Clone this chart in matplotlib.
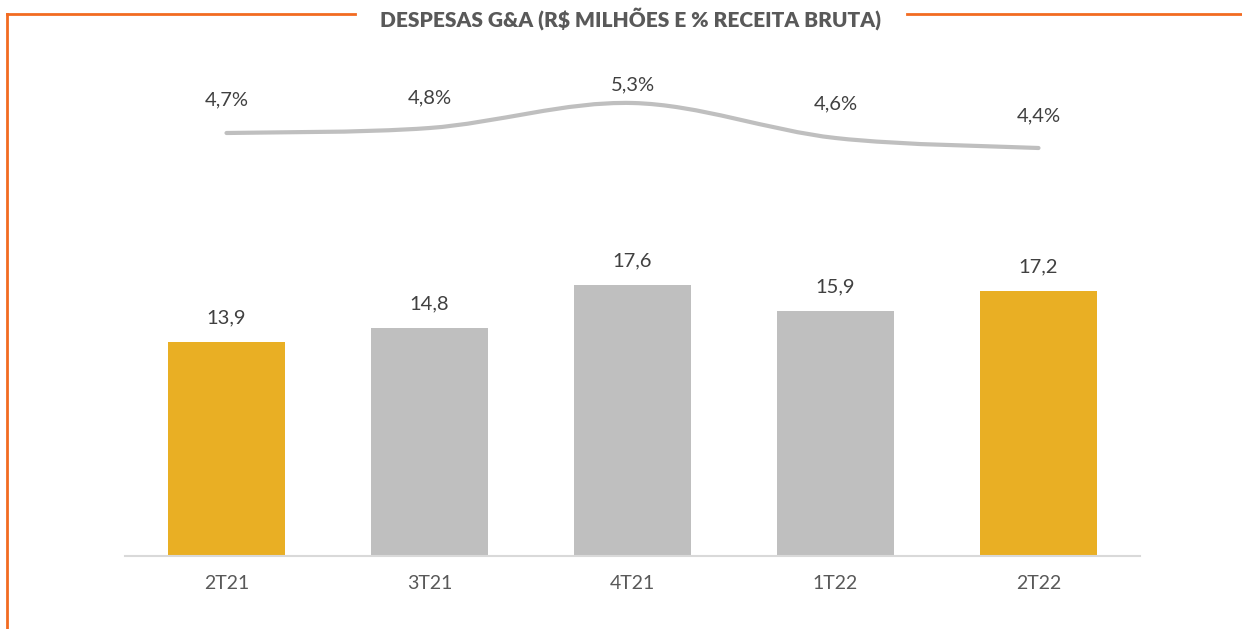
import numpy as np
import matplotlib
matplotlib.use("Agg")
import matplotlib.pyplot as plt
from matplotlib.path import Path
from matplotlib.patches import PathPatch
from matplotlib.lines import Line2D

plt.rcParams['font.family'] = ['Lato', 'DejaVu Sans']

# data
quarters = ['2T21', '3T21', '4T21', '1T22', '2T22']
despesas = [13.9, 14.8, 17.6, 15.9, 17.2]
pct_receita = [4.7, 4.8, 5.3, 4.6, 4.4]
pct_labels = ['4,7%', '4,8%', '5,3%', '4,6%', '4,4%']
bar_colors = ['#E9AF24', '#BFBFBF', '#BFBFBF', '#BFBFBF', '#E9AF24']
# label offsets above the line (px), as placed in the original
pct_offsets = [33, 30, 18, 34, 32]

W, H = 1242, 629
fig = plt.figure(figsize=(W / 100, H / 100), dpi=100)

# axes: baseline at y=556px, left 125, right 1140
ax = fig.add_axes([125 / W, 1 - 556 / H, (1140 - 125) / W, (556 - 60) / H])
x = np.arange(len(quarters))
ax.bar(x, despesas, width=0.575, color=bar_colors)
ax.set_xlim(-0.5, len(quarters) - 0.5)
ax.set_ylim(0, 496 / 15.4)
for i, v in enumerate(despesas):
    ax.annotate(f'{v:.1f}'.replace('.', ','), (i, v), xytext=(0, 16),
                textcoords='offset pixels', ha='center', va='bottom',
                fontsize=14.5, color='#404040')
ax.set_xticks(x)
ax.set_xticklabels(quarters, fontsize=14, color='#595959')
ax.tick_params(axis='x', length=0, pad=14)
ax.set_yticks([])
for s in ['top', 'right', 'left']:
    ax.spines[s].set_visible(False)
ax.spines['bottom'].set_color('#D9D9D9')
ax.spines['bottom'].set_linewidth(1.5)

# percentage line on twin axis (smoothed like excel)
ax2 = ax.twinx()
lo = 4.4 - 408 / 50
ax2.set_ylim(lo, lo + 496 / 50)
ax2.set_yticks([])
for s in ax2.spines.values():
    s.set_visible(False)

pts = np.column_stack([x, pct_receita]).astype(float)
verts = [pts[0]]
codes = [Path.MOVETO]
n = len(pts)
for i in range(n - 1):
    p0 = pts[max(i - 1, 0)]
    p1 = pts[i]
    p2 = pts[i + 1]
    p3 = pts[min(i + 2, n - 1)]
    c1 = p1 + (p2 - p0) / 6
    c2 = p2 - (p3 - p1) / 6
    verts += [c1, c2, p2]
    codes += [Path.CURVE4] * 3
ax2.add_patch(PathPatch(Path(verts, codes), facecolor='none',
                        edgecolor='#BFBFBF', lw=3, capstyle='round'))
for i, (v, lab) in enumerate(zip(pct_receita, pct_labels)):
    ax2.annotate(lab, (i, v), xytext=(0, pct_offsets[i]),
                 textcoords='offset pixels', ha='center', va='center',
                 fontsize=14.5, color='#404040')

# title and orange frame
fig.text(631 / W, 1 - 19 / H, 'DESPESAS G&A (R$ MILHÕES E % RECEITA BRUTA)',
         ha='center', va='center', fontsize=15, fontweight='heavy',
         color='#595959')
orange = '#F26B21'
fig.add_artist(Line2D([7 / W, 355 / W], [1 - 14 / H, 1 - 14 / H],
                      color=orange, lw=2))
fig.add_artist(Line2D([907 / W, 1], [1 - 14 / H, 1 - 14 / H],
                      color=orange, lw=2))
fig.add_artist(Line2D([7 / W, 7 / W], [1 - 14 / H, 0],
                      color=orange, lw=2))

fig.savefig('out.png', dpi=100)
